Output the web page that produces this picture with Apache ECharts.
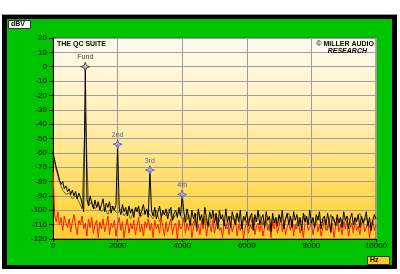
<!DOCTYPE html>
<html>
<head>
<meta charset="utf-8">
<script src="https://cdn.jsdelivr.net/npm/echarts@6/dist/echarts.min.js"></script>
<style>
html,body{margin:0;padding:0;background:#fff;}
#wrap{position:relative;width:400px;height:274px;overflow:hidden;background:#fff;}
#blk{position:absolute;left:2px;top:14px;width:395px;height:255px;background:#000;border-top:1px solid #999;box-sizing:border-box;}
#grn{position:absolute;left:7px;top:19px;width:385px;height:246px;background:#00c300;}
#chart{position:absolute;left:0;top:0;width:400px;height:274px;}
</style>
</head>
<body>
<div id="wrap"><div id="blk"></div><div id="grn"></div><div id="chart"></div></div>
<script>
// ---- data (dBV) ----
const blackStepHz = 50;
const blackDb = [
 -59,-65,-70,-74,-79,-82,-80,-85,-83,-87,
 -85,-89,-86,-90,-87,-92,-88,-91,-95,-101,
 0,-92,-97,-90,-95,-99,-93,-98,-94,-100,
 -96,-92,-101,-95,-98,-94,-102,-97,-100,-96,
 -54,-99,-103,-96,-101,-98,-104,-97,-102,-99,
 -105,-98,-101,-97,-104,-100,-96,-103,-99,-105,
 -72,-100,-104,-98,-106,-101,-97,-105,-100,-103,
 -99,-106,-101,-98,-107,-102,-100,-105,-98,-104,
 -89,-101,-108,-99,-105,-110,-100,-106,-102,-112,
 -99,-107,-103,-110,-98,-105,-111,-101,-106,-100,
 -109,-102,-113,-100,-106,-103,-111,-99,-108,-104,
 -112,-101,-106,-110,-102,-108,-100,-113,-104,-107,
 -101,-111,-105,-102,-114,-103,-108,-100,-110,-106,
 -103,-112,-101,-107,-104,-115,-102,-109,-105,-111,
 -103,-108,-100,-113,-106,-102,-110,-104,-112,-101,
 -107,-103,-111,-105,-114,-102,-108,-104,-110,-100,
 -109,-105,-112,-103,-107,-101,-113,-106,-104,-110,
 -102,-108,-115,-104,-106,-111,-103,-109,-105,-112,
 -101,-107,-104,-113,-106,-102,-110,-105,-108,-103,
 -112,-104,-109,-106,-101,-111,-105,-114,-107,-103,
 -106
];
const redStepHz = 50;
const redDb = [
 -73,-103,-108,-101,-110,-105,-114,-104,-109,-112,
 -106,-115,-108,-103,-111,-117,-107,-110,-104,-113,
 -109,-118,-106,-112,-105,-116,-110,-107,-119,-108,
 -113,-106,-115,-110,-104,-117,-109,-112,-107,-118,
 -110,-105,-114,-108,-119,-111,-106,-116,-109,-113,
 -107,-117,-111,-105,-115,-110,-118,-108,-112,-106,
 -114,-109,-119,-107,-113,-110,-116,-105,-112,-118,
 -108,-115,-110,-106,-117,-111,-109,-120,-107,-113,
 -111,-105,-116,-109,-114,-107,-119,-112,-106,-115,
 -110,-117,-108,-113,-106,-118,-111,-109,-115,-107,
 -116,-110,-105,-114,-112,-119,-108,-113,-107,-117,
 -109,-115,-111,-106,-118,-110,-114,-108,-120,-112,
 -107,-116,-110,-113,-105,-117,-111,-109,-115,-108,
 -118,-112,-106,-114,-110,-119,-108,-113,-107,-116,
 -111,-105,-115,-109,-117,-112,-108,-114,-106,-118,
 -110,-113,-107,-116,-111,-119,-109,-105,-114,-112,
 -108,-117,-111,-106,-115,-110,-118,-113,-107,-114,
 -112,-106,-116,-109,-119,-111,-105,-115,-110,-117,
 -108,-113,-107,-118,-112,-109,-116,-106,-114,-111,
 -117,-110,-106,-115,-112,-108,-119,-111,-107,-114,
 -110
];
const oliveStepHz = 100;
const oliveDb = [
 -62,-72,-80,-86,-89,-88,-92,-90,-94,-99,
 -32,-97,-94,-99,-96,-101,-98,-103,-97,-100,
 -102,-99,-104,-100,-106,-101,-98,-105,-102,-100,
 -103,-106,-100,-108,-102,-104,-99,-107,-103,-101,
 -106,-109,-103,-111,-105,-101,-108,-104,-112,-106,
 -103,-110,-105,-108,-113,-104,-107,-102,-111,-106,
 -109,-104,-112,-106,-103,-110,-107,-114,-105,-108,
 -104,-111,-106,-102,-109,-113,-105,-108,-103,-110,
 -107,-112,-104,-109,-106,-114,-103,-108,-111,-105,
 -110,-104,-108,-113,-106,-102,-109,-105,-112,-107,
 -105
];
const harmonicHz = [1000, 2000, 3000, 4000];
const harmonicDb = [0, -54, -72, -89];
const harmonicNames = ['Fund', '2nd', '3rd', '4th'];
const yTicks = {min: -120, max: 20, interval: 10};
const xTicks = {min: 0, max: 10000, interval: 2000};

// ---- chart ----
const toPairs = (arr, step) => arr.map((v, i) => [i * step, v]);
const star = 'path://M0,-5 L1.3,-1.3 L5,0 L1.3,1.3 L0,5 L-1.3,1.3 L-5,0 L-1.3,-1.3 Z';
const markerData = harmonicHz.map((f, i) => {
  const fund = i === 0;
  return {
    value: [f, harmonicDb[i]],
    name: harmonicNames[i],
    itemStyle: {color: fund ? '#d8d8d8' : '#b4b4ff', borderColor: fund ? '#222' : '#4a4ad0', borderWidth: 1},
    label: {color: fund ? '#000' : '#3535c8'}
  };
});

const chart = echarts.init(document.getElementById('chart'), null, {renderer: 'canvas'});
const font = 'Liberation Sans, Arial, sans-serif';
chart.setOption({
  animation: false,
  backgroundColor: 'transparent',
  grid: {
    left: 53, right: 24, top: 38, bottom: 35, show: true,
    borderColor: '#555', borderWidth: 1,
    backgroundColor: new echarts.graphic.LinearGradient(0, 0, 0, 1, [
      {offset: 0, color: '#fffcf2'},
      {offset: 0.4, color: '#ffefb6'},
      {offset: 0.75, color: '#ffdc5c'},
      {offset: 1, color: '#ffcd2e'}
    ])
  },
  xAxis: {
    type: 'value', min: xTicks.min, max: xTicks.max, interval: xTicks.interval,
    axisLine: {show: true, onZero: false, lineStyle: {color: '#000', width: 1}},
    axisTick: {show: true, length: 3, lineStyle: {color: '#000'}},
    axisLabel: {color: '#000', fontSize: 8, fontFamily: font, margin: 3, formatter: v => String(v)},
    splitLine: {show: true, lineStyle: {color: '#9c9c9c', width: 1}}
  },
  yAxis: {
    type: 'value', min: yTicks.min, max: yTicks.max, interval: yTicks.interval,
    axisLine: {show: true, onZero: false, lineStyle: {color: '#000', width: 1}},
    axisTick: {show: true, length: 4, lineStyle: {color: '#000'}},
    axisLabel: {color: '#000', fontSize: 8, fontFamily: font, margin: 6, formatter: v => String(v)},
    splitLine: {show: true, lineStyle: {color: '#9c9c9c', width: 1}}
  },
  series: [
    {type: 'line', data: toPairs(redDb, redStepHz), symbol: 'none', lineStyle: {color: '#ff1a00', width: 1}, z: 2},
    {type: 'line', data: toPairs(oliveDb, oliveStepHz), symbol: 'none', lineStyle: {color: '#7a6a1c', width: 1}, z: 3},
    {type: 'line', data: toPairs(blackDb, blackStepHz), symbol: 'none', lineStyle: {color: '#000', width: 1}, z: 4},
    {type: 'scatter', data: markerData, symbol: star, symbolSize: 9, z: 5,
     label: {show: true, position: 'top', distance: 1, fontSize: 7, fontFamily: font, formatter: p => p.name}}
  ],
  graphic: [
    {type: 'rect', shape: {x: 8.5, y: 20.5, width: 22, height: 8}, style: {fill: '#fff', stroke: '#333', lineWidth: 1}, z: 10},
    {type: 'text', x: 11, y: 21, style: {text: 'dBV', font: 'bold 7px ' + font, fill: '#000'}, z: 11},
    {type: 'rect', shape: {x: 367.5, y: 256.5, width: 22, height: 8}, style: {fill: '#ffcc1a', stroke: '#333', lineWidth: 1}, z: 10},
    {type: 'text', x: 370, y: 257, style: {text: 'Hz', font: 'bold 7px ' + font, fill: '#000'}, z: 11},
    {type: 'text', x: 57, y: 41, style: {text: 'THE QC SUITE', font: 'bold 7px ' + font, fill: '#000'}, z: 11},
    {type: 'text', x: 374, y: 41, style: {text: '© MILLER AUDIO', font: 'bold 7px ' + font, fill: '#000', align: 'right'}, z: 11},
    {type: 'text', x: 367, y: 48, style: {text: 'RESEARCH', font: 'italic bold 7px ' + font, fill: '#000', align: 'right'}, z: 11}
  ]
});
</script>
</body>
</html>
